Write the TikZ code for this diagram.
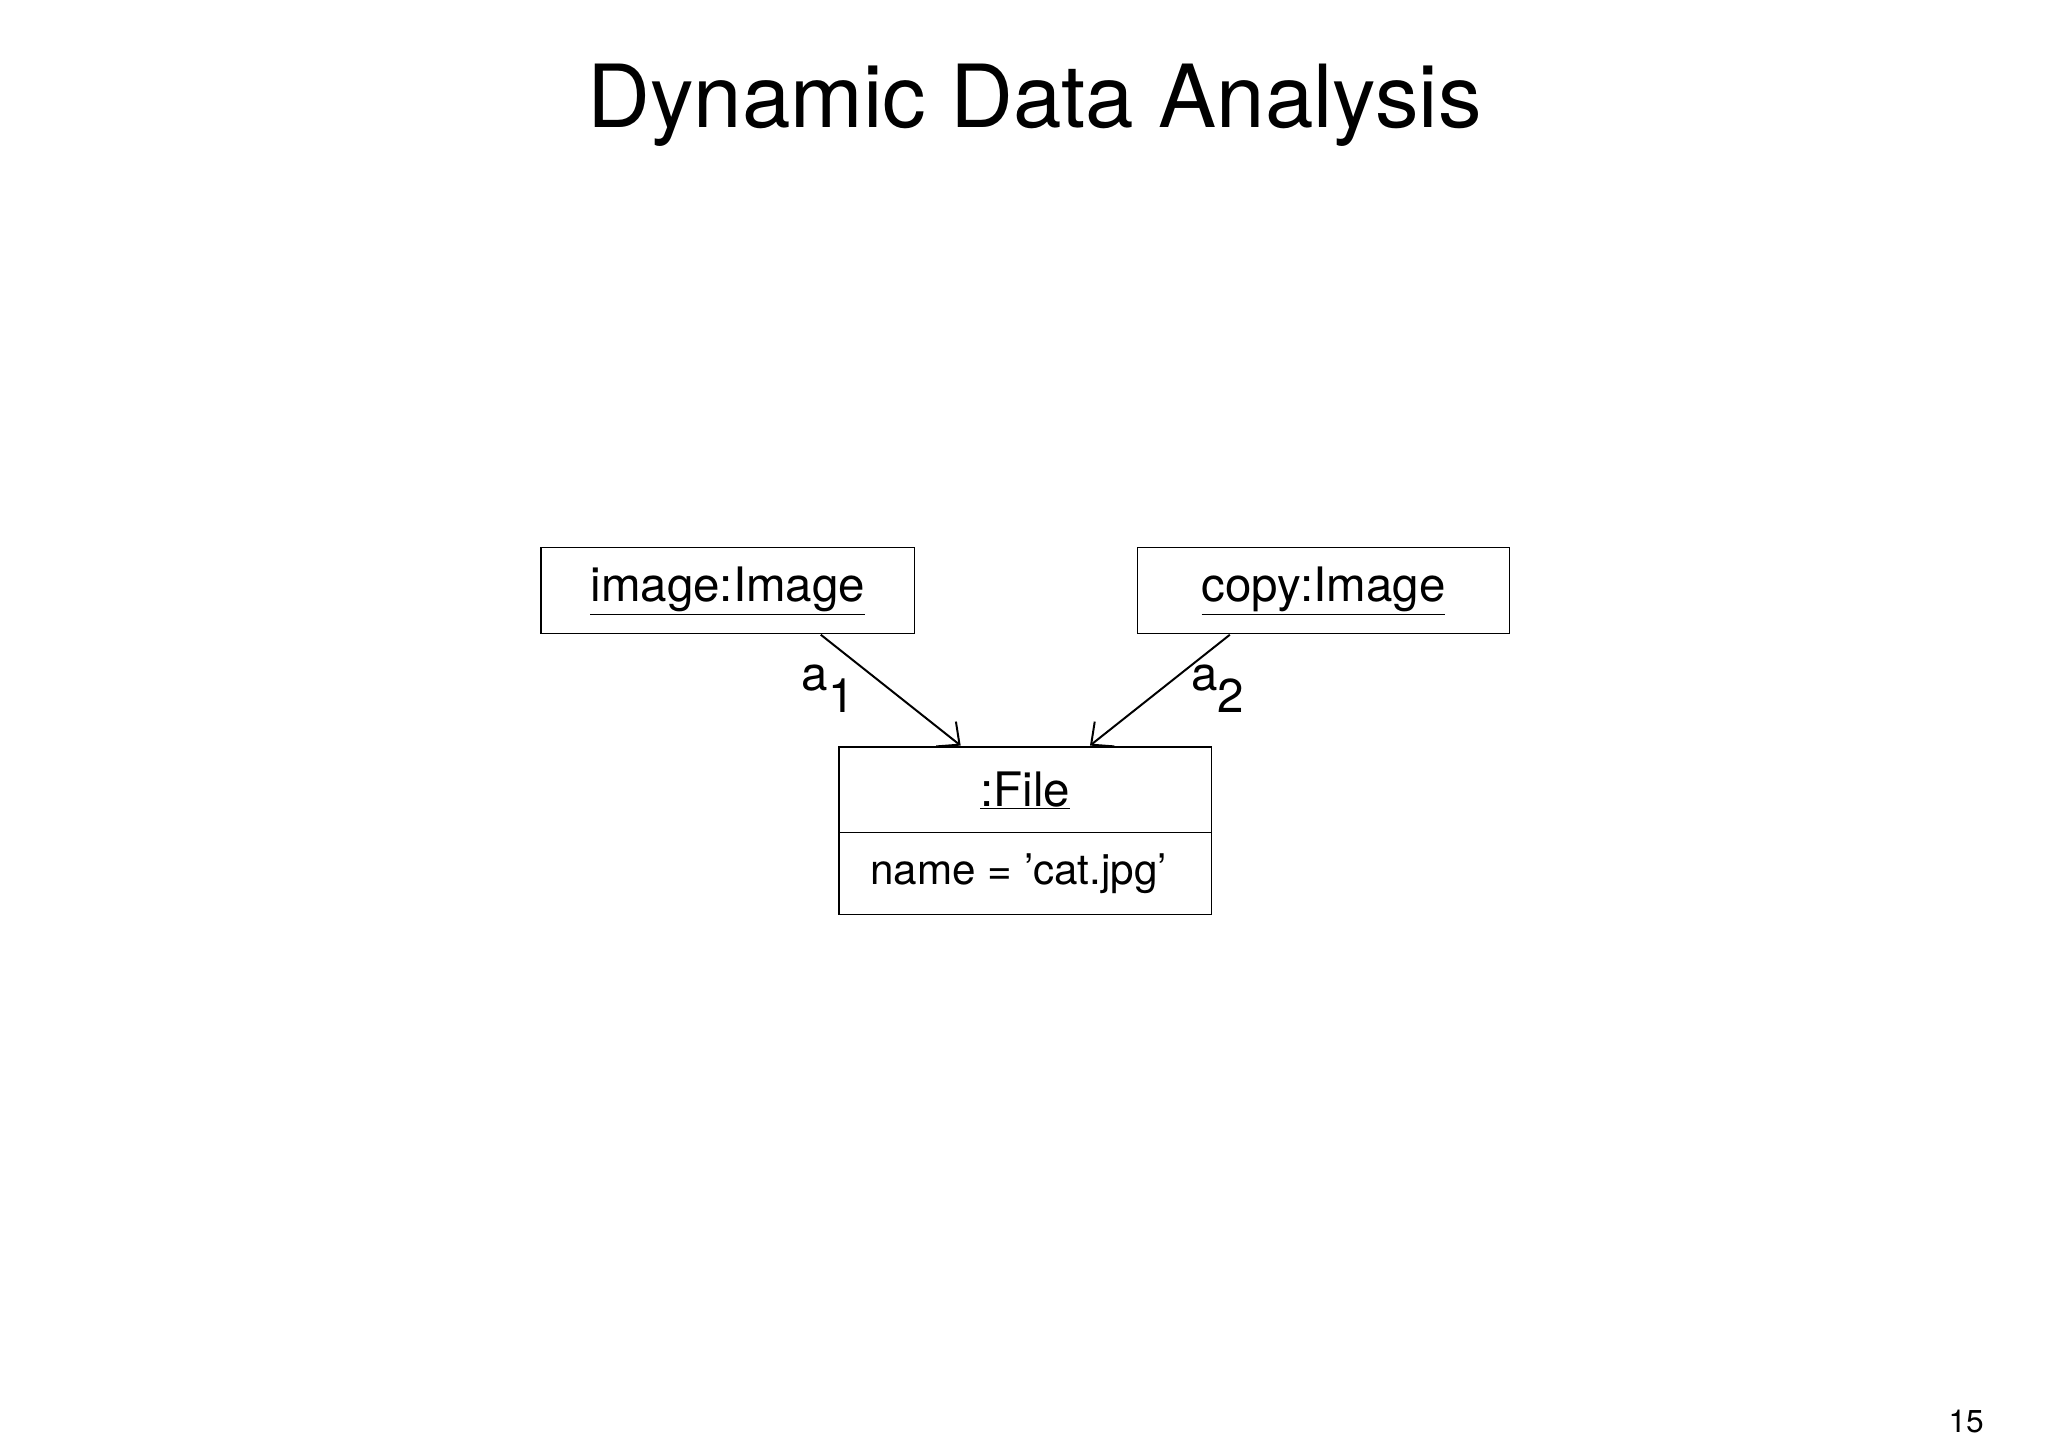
\documentclass[tikz,border=0pt]{standalone}
\usepackage{fontspec}
\setmainfont{TeX Gyre Heros}
\usetikzlibrary{arrows.meta}
\begin{document}
\begin{tikzpicture}[x=1pt,y=-1pt,
  box/.style={draw,line width=1.2pt},
  lbl/.style={font=\fontsize{36}{40}\selectfont},
  arr/.style={line width=1.5pt,-{Straight Barb[length=13pt,width=24pt,line width=1.5pt]}}]
\useasboundingbox (0,0) rectangle (1552,1097);
\node[font=\fontsize{66}{70}\selectfont] (title) at (784,80) {Dynamic Data Analysis};
\draw[box] (410,415) rectangle (693,480);
\node[lbl] (img) at (551.5,448) {\underline{image:Image}};
\draw[box] (862,415) rectangle (1144,480);
\node[lbl] (cpy) at (1003,448) {\underline{copy:Image}};
\draw[box] (636,566) rectangle (918,693);
\draw[line width=1.2pt] (636,631) -- (918,631);
\node[lbl] (file) at (777,599) {\underline{:File}};
\node[font=\fontsize{32}{36}\selectfont] (attr) at (772,662) {name = 'cat.jpg'};
\coordinate (s1) at (622,481); \coordinate (t1) at (728,565);
\coordinate (s2) at (932,481); \coordinate (t2) at (826,565);
\draw[arr] (s1) -- (t1);
\draw[arr] (s2) -- (t2);
\node[lbl] (a1) at (628,522) {a$_{\textrm{1}}$};
\node[lbl] (a2) at (923,522) {a$_{\textrm{2}}$};
\node[font=\fontsize{24}{28}\selectfont] (pg) at (1490,1077) {15};
\end{tikzpicture}
\end{document}
